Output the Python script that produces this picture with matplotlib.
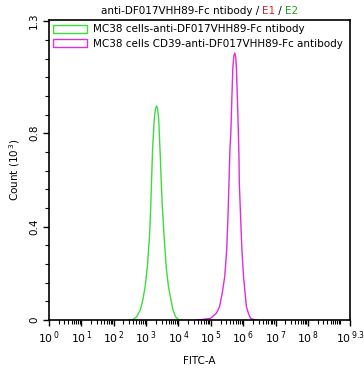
import matplotlib
matplotlib.use("Agg")
import matplotlib.pyplot as plt
from matplotlib.patches import Patch
from matplotlib.ticker import FixedLocator, NullFormatter
import numpy as np

# ---- data ----
title_main = "anti-DF017VHH89-Fc ntibody / "
title_e1 = "E1"
title_e2 = "E2"

series_names = ["MC38 cells-anti-DF017VHH89-Fc ntibody",
                "MC38 cells CD39-anti-DF017VHH89-Fc antibody"]

# FITC-A (log10 decades) and Count (10^3)
green_log = [2.45, 2.59, 2.71, 2.82, 2.90, 2.97, 3.04, 3.11, 3.14, 3.16, 3.20, 3.25, 3.29,
             3.33, 3.36, 3.39, 3.43, 3.47, 3.50, 3.55, 3.62, 3.69, 3.77, 3.83, 3.91,
             4.01, 4.10]
green_cnt = [0.000, 0.001, 0.014, 0.043, 0.086, 0.143, 0.229, 0.371, 0.471, 0.560, 0.729, 0.857, 0.905,
             0.917, 0.900, 0.857, 0.729, 0.587, 0.490, 0.371, 0.229, 0.143, 0.086, 0.043, 0.014,
             0.001, 0.000]

magenta_log = [4.55, 4.73, 4.99, 5.17, 5.27, 5.35, 5.43, 5.49, 5.53, 5.56, 5.59, 5.62, 5.65,
               5.68, 5.71, 5.74, 5.77, 5.79, 5.82, 5.85, 5.87, 5.88, 5.92, 5.96, 6.01,
               6.06, 6.10, 6.16, 6.23, 6.34, 6.45]
magenta_cnt = [0.000, 0.002, 0.007, 0.029, 0.057, 0.114, 0.186, 0.300, 0.443, 0.586, 0.729, 0.809, 0.951,
               1.080, 1.130, 1.144, 1.125, 1.080, 0.951, 0.809, 0.694, 0.586, 0.443, 0.300, 0.186,
               0.114, 0.057, 0.029, 0.007, 0.001, 0.000]

x_tick_exps = [0, 1, 2, 3, 4, 5, 6, 7, 8, 9.3]
x_tick_labels = ["0", "1", "2", "3", "4", "5", "6", "7", "8", "9.3"]
y_ticks = [0, 0.4, 0.8, 1.28]
y_tick_labels = ["0", "0.4", "0.8", "1.3"]

green = "#3ddc3d"
magenta = "#dc2edc"

# ---- figure ----
W, H = 364, 369
fig = plt.figure(figsize=(W / 100, H / 100), dpi=100)
ax = fig.add_axes([49 / W, 1 - 320 / H, (350 - 49) / W, (320 - 20) / H])

ax.plot(10 ** np.array(green_log), green_cnt, color=green, lw=1.0)
ax.plot(10 ** np.array(magenta_log), magenta_cnt, color=magenta, lw=1.0)

ax.set_xscale("log")
ax.set_xlim(1, 10 ** 9.3)
ax.set_ylim(0, 1.285)

ax.xaxis.set_major_locator(FixedLocator([10 ** e for e in x_tick_exps]))
ax.set_xticklabels([r"$10^{\,%s}$" % l for l in x_tick_labels], fontsize=7.8)
minors = []
for d in range(0, 10):
    for m in range(2, 10):
        v = m * 10 ** d
        if v < 10 ** 9.3:
            minors.append(v)
minors.append(10 ** 9)
ax.xaxis.set_minor_locator(FixedLocator(minors))
ax.xaxis.set_minor_formatter(NullFormatter())

ax.yaxis.set_major_locator(FixedLocator(y_ticks))
ax.set_yticklabels(y_tick_labels, fontsize=7.5, rotation=90, va="center")
ax.yaxis.set_minor_locator(FixedLocator([i * 0.08 for i in range(17)]))

ax.tick_params(axis="both", which="major", direction="out", length=4, width=1, pad=3)
ax.tick_params(axis="both", which="minor", direction="out", length=3, width=0.8)
for s in ax.spines.values():
    s.set_linewidth(1.2)

ax.set_xlabel("FITC-A", fontsize=7.5, labelpad=7)
ax.set_ylabel("Count (10$^{\\,3}$)", fontsize=7.5, labelpad=5)

# title with coloured parts
t1 = fig.text(0, 0, title_main, fontsize=7.5)
fig.canvas.draw()
r = fig.canvas.get_renderer()
wa = t1.get_window_extent(r).width
t2 = fig.text(0, 0, title_e1, fontsize=7.5, color="#e02020")
t3 = fig.text(0, 0, " / ", fontsize=7.5)
t4 = fig.text(0, 0, title_e2, fontsize=7.5, color="#20a020")
wb = t2.get_window_extent(r).width
wc = t3.get_window_extent(r).width
wd = t4.get_window_extent(r).width
total = wa + wb + wc + wd
cx = (49 + 350) / 2
x0 = cx - total / 2
yt = 1 - 11 / H
for t, off in [(t1, 0), (t2, wa), (t3, wa + wb), (t4, wa + wb + wc)]:
    t.set_position(((x0 + off) / W, yt))
    t.set_va("center")

handles = [Patch(facecolor="none", edgecolor=green, lw=1.0),
           Patch(facecolor="none", edgecolor=magenta, lw=1.0)]
ax.legend(handles, series_names, loc="upper left", frameon=False, fontsize=7.5,
          handlelength=3.2, handleheight=0.8, handletextpad=0.6, labelspacing=0.45,
          borderaxespad=0.2, borderpad=0.2)

fig.savefig("out.png", dpi=100)
